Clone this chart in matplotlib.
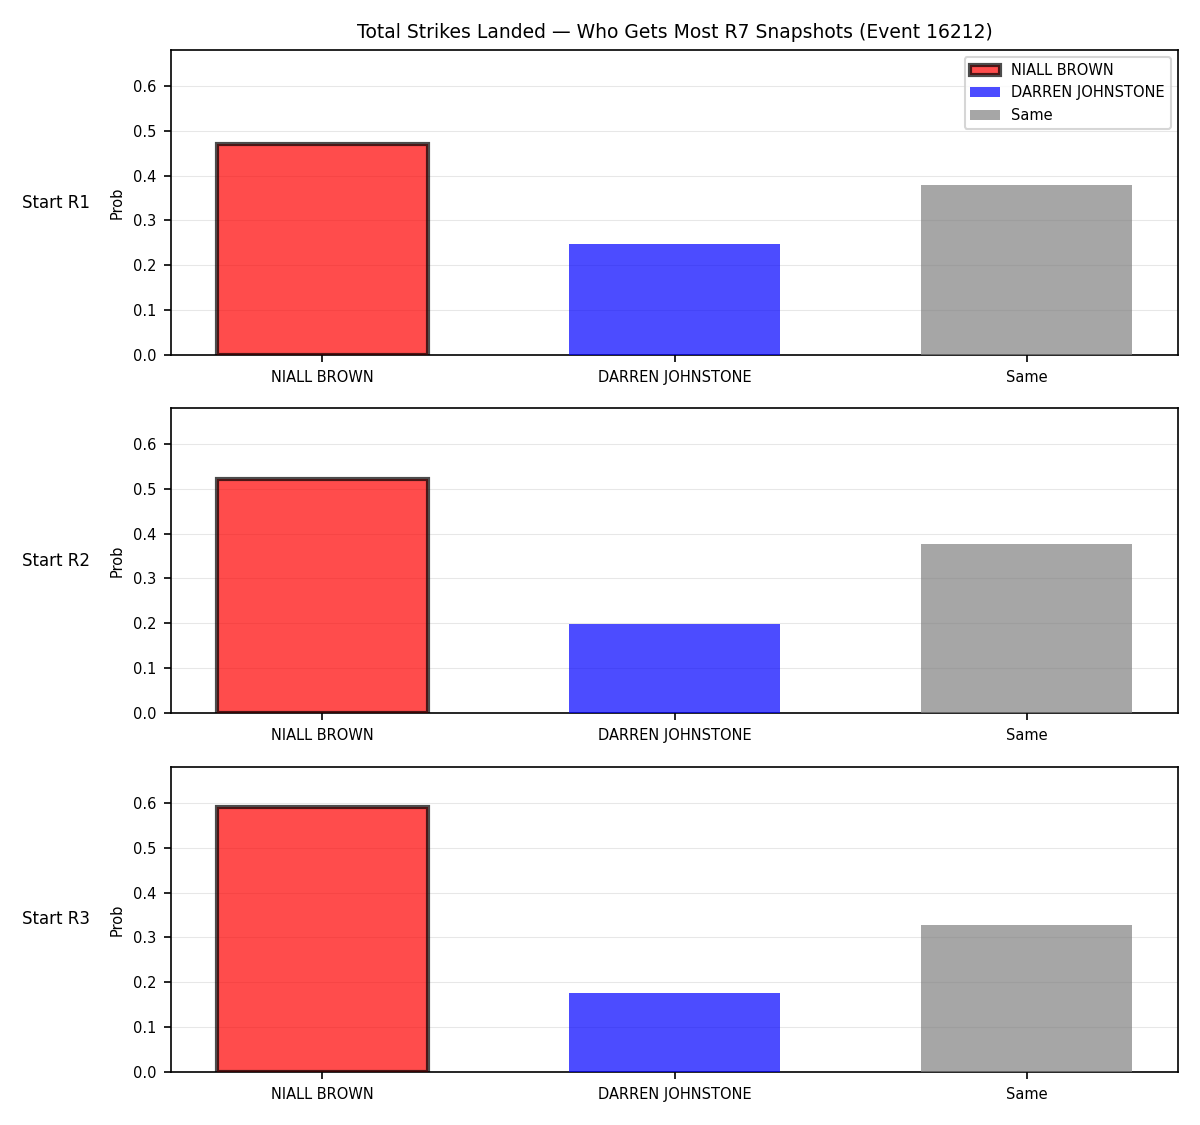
import matplotlib
matplotlib.use("Agg")
import matplotlib.pyplot as plt

categories = ["NIALL BROWN", "DARREN JOHNSTONE", "Same"]
row_labels = ["Start R1", "Start R2", "Start R3"]
probs_r1 = [0.471, 0.248, 0.379]
probs_r2 = [0.522, 0.198, 0.376]
probs_r3 = [0.591, 0.177, 0.327]
all_probs = [probs_r1, probs_r2, probs_r3]
colors = ["red", "blue", "gray"]

fig = plt.figure(figsize=(8, 7.5), dpi=150)
tops = [50, 408, 767]
height_px = 305
W, H = 1200, 1125
left, right = 171, 1178
axes = []
for t in tops:
    ax = fig.add_axes([left / W, 1 - (t + height_px) / H, (right - left) / W, height_px / H])
    axes.append(ax)

for i, (ax, probs, lab) in enumerate(zip(axes, all_probs, row_labels)):
    x = list(range(len(categories)))
    for j in range(len(categories)):
        if j == 0:
            ax.bar(x[j], probs[j], width=0.6, color=colors[j], alpha=0.7,
                   edgecolor="black", linewidth=2, label=categories[j], zorder=3)
        else:
            ax.bar(x[j], probs[j], width=0.6, color=colors[j], alpha=0.7,
                   label=categories[j], zorder=3)
    ax.set_xticks(x)
    ax.set_xticklabels(categories)
    ax.set_ylim(0, 0.68)
    ax.set_ylabel("Prob", fontsize=7)
    ax.grid(axis="y", alpha=0.3, linewidth=0.5, zorder=0)
    ax.set_axisbelow(True)
    ax.tick_params(labelsize=7)
    ax.text(-0.08, 0.5, lab, transform=ax.transAxes, ha="right", va="center", fontsize=8)
    if i == 0:
        ax.legend(loc="upper right", fontsize=7)
        ax.set_title("Total Strikes Landed \u2014 Who Gets Most R7 Snapshots (Event 16212)", fontsize=9)

fig.savefig("out.png", dpi=150)
